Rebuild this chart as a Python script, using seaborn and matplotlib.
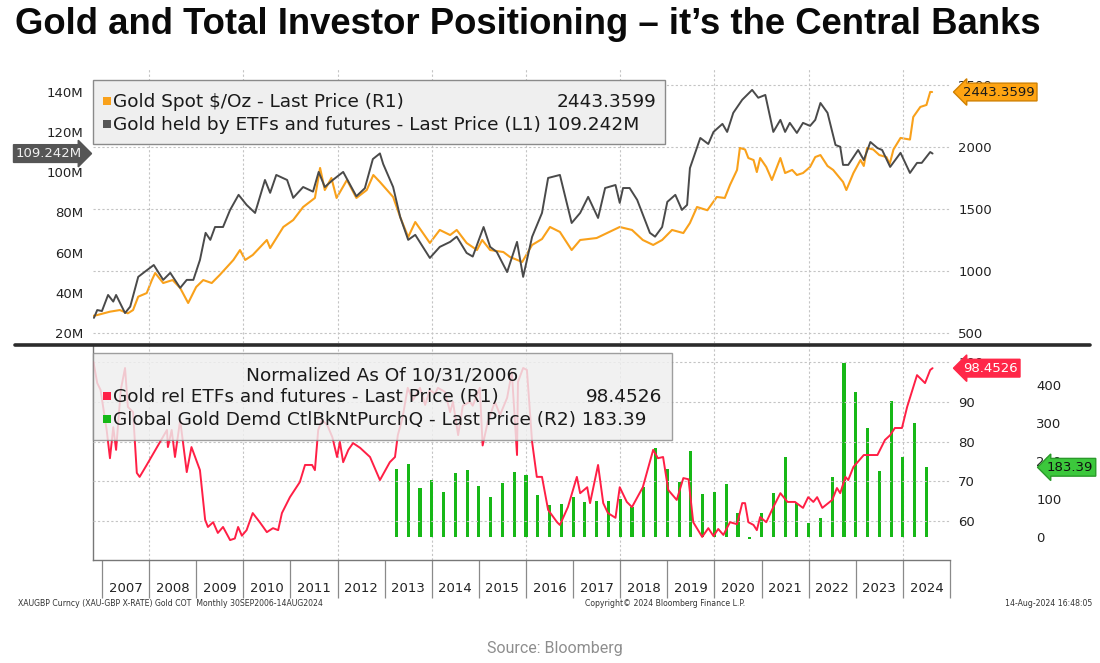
import matplotlib
matplotlib.use("Agg")
import matplotlib.pyplot as plt
import matplotlib.transforms as mtrans
from matplotlib.lines import Line2D
from matplotlib.patches import Rectangle
import numpy as np
import pandas as pd
import seaborn as sns

# ---------------- data ----------------
gold_t = [2006.80, 2006.90, 2007.17, 2007.38, 2007.55, 2007.66, 2007.77, 2007.95, 2008.06, 2008.13,
          2008.30, 2008.50, 2008.66, 2008.83, 2009.00, 2009.15, 2009.33, 2009.50, 2009.79, 2009.93,
          2010.04, 2010.20, 2010.50, 2010.57, 2010.85, 2011.06, 2011.27, 2011.52, 2011.63, 2011.73,
          2011.87, 2011.98, 2012.20, 2012.40, 2012.62, 2012.76, 2012.90, 2013.18, 2013.33, 2013.50,
          2013.65, 2013.96, 2014.17, 2014.39, 2014.53, 2014.74, 2014.96, 2015.07, 2015.24, 2015.52,
          2015.66, 2015.92, 2016.13, 2016.34, 2016.51, 2016.72, 2016.97, 2017.15, 2017.50, 2017.72,
          2017.99, 2018.25, 2018.48, 2018.70, 2018.89, 2019.10, 2019.34, 2019.48, 2019.63, 2019.85,
          2020.05, 2020.22, 2020.33, 2020.48, 2020.54, 2020.65, 2020.72, 2020.83, 2020.90, 2020.97,
          2021.10, 2021.22, 2021.40, 2021.50, 2021.65, 2021.75, 2021.88, 2022.03, 2022.14, 2022.25,
          2022.40, 2022.52, 2022.73, 2022.80, 2022.95, 2023.10, 2023.17, 2023.24, 2023.37, 2023.50,
          2023.65, 2023.72, 2023.80, 2023.95, 2024.15, 2024.22, 2024.37, 2024.50, 2024.58, 2024.62]
gold_v = [637, 645, 672, 685, 659, 685, 793, 822, 927, 984,
          903, 927, 863, 742, 871, 927, 903, 968, 1089, 1169,
          1089, 1129, 1250, 1185, 1355, 1411, 1516, 1589, 1831, 1653,
          1750, 1589, 1734, 1589, 1653, 1774, 1718, 1597, 1435, 1274,
          1395, 1226, 1331, 1290, 1331, 1226, 1169, 1250, 1169, 1153,
          1113, 1073, 1210, 1258, 1355, 1315, 1169, 1250, 1266, 1306,
          1355, 1331, 1250, 1210, 1250, 1331, 1306, 1387, 1516, 1490,
          1597, 1589, 1694, 1815, 1992, 1980, 1911, 1895, 1798, 1911,
          1839, 1734, 1911, 1790, 1815, 1774, 1790, 1839, 1919, 1935,
          1847, 1815, 1718, 1653, 1790, 1895, 1847, 1992, 1980, 1935,
          1919, 1863, 1980, 2073, 2060, 2242, 2323, 2339, 2444, 2443.36]

etf_t = [2006.83, 2006.90, 2007.00, 2007.13, 2007.24, 2007.30, 2007.49, 2007.60, 2007.77, 2007.88,
         2008.10, 2008.30, 2008.45, 2008.66, 2008.80, 2008.94, 2009.08, 2009.20, 2009.30, 2009.40,
         2009.57, 2009.72, 2009.90, 2010.07, 2010.25, 2010.46, 2010.57, 2010.70, 2010.93, 2011.06,
         2011.27, 2011.48, 2011.60, 2011.73, 2011.90, 2012.12, 2012.27, 2012.40, 2012.58, 2012.75,
         2012.90, 2012.97, 2013.18, 2013.33, 2013.50, 2013.65, 2013.96, 2014.17, 2014.39, 2014.53,
         2014.74, 2014.87, 2015.10, 2015.24, 2015.38, 2015.60, 2015.81, 2015.94, 2016.13, 2016.34,
         2016.47, 2016.72, 2016.97, 2017.15, 2017.32, 2017.53, 2017.68, 2017.90, 2017.99, 2018.06,
         2018.20, 2018.36, 2018.63, 2018.74, 2018.89, 2019.00, 2019.17, 2019.31, 2019.42, 2019.48,
         2019.70, 2019.87, 2019.98, 2020.17, 2020.27, 2020.40, 2020.59, 2020.80, 2020.93, 2021.08,
         2021.25, 2021.40, 2021.50, 2021.60, 2021.75, 2021.88, 2022.03, 2022.14, 2022.25, 2022.40,
         2022.57, 2022.67, 2022.73, 2022.84, 2023.05, 2023.17, 2023.31, 2023.46, 2023.56, 2023.73,
         2023.95, 2024.15, 2024.30, 2024.40, 2024.58, 2024.63]
etf_v = [27.5, 31.4, 30.9, 38.9, 35.6, 38.9, 29.9, 33.1, 47.9, 49.9,
         53.8, 46.4, 49.9, 42.4, 46.4, 46.4, 56.3, 69.8, 66.3, 72.7,
         72.7, 81.2, 88.7, 83.7, 79.7, 96.1, 89.7, 98.6, 96.1, 87.2,
         92.6, 90.3, 100.1, 92.6, 96.1, 100.1, 93.6, 88.0, 92.0, 106.5,
         109.3, 104.0, 92.6, 77.7, 66.3, 68.8, 57.3, 62.8, 65.3, 67.9,
         59.8, 58.0, 72.7, 62.8, 60.3, 50.3, 65.3, 47.9, 67.8, 79.7,
         97.1, 98.6, 74.7, 79.7, 87.7, 77.2, 92.1, 93.6, 84.7, 92.1,
         92.1, 86.2, 69.8, 67.9, 72.7, 85.2, 88.7, 81.2, 83.7, 102.0,
         117.0, 114.0, 120.0, 124.0, 120.0, 129.5, 136.0, 140.9, 137.0, 138.4,
         120.0, 126.0, 120.0, 124.5, 119.5, 124.5, 123.0, 126.0, 134.4, 129.5,
         113.5, 112.6, 103.6, 103.6, 111.0, 106.0, 115.0, 112.0, 111.0, 102.6,
         109.6, 99.6, 104.6, 104.6, 110.0, 109.242]

rel_t = [2006.82, 2006.90, 2006.97, 2007.10, 2007.17, 2007.24, 2007.30, 2007.40, 2007.49, 2007.55,
         2007.66, 2007.74, 2007.80, 2007.95, 2008.17, 2008.38, 2008.40, 2008.48, 2008.55, 2008.66,
         2008.80, 2008.90, 2009.08, 2009.19, 2009.25, 2009.36, 2009.46, 2009.57, 2009.72, 2009.82,
         2009.89, 2009.97, 2010.07, 2010.20, 2010.35, 2010.50, 2010.63, 2010.74, 2010.82, 2010.99,
         2011.20, 2011.31, 2011.46, 2011.52, 2011.59, 2011.67, 2011.78, 2011.89, 2011.99, 2012.05,
         2012.12, 2012.23, 2012.33, 2012.48, 2012.69, 2012.90, 2013.11, 2013.22, 2013.28, 2013.38,
         2013.49, 2013.60, 2013.75, 2013.86, 2013.96, 2014.07, 2014.13, 2014.28, 2014.39, 2014.45,
         2014.56, 2014.66, 2014.81, 2014.87, 2015.02, 2015.08, 2015.19, 2015.34, 2015.45, 2015.60,
         2015.70, 2015.81, 2015.83, 2015.94, 2016.02, 2016.13, 2016.23, 2016.34, 2016.47, 2016.66,
         2016.72, 2016.89, 2017.08, 2017.15, 2017.30, 2017.36, 2017.53, 2017.64, 2017.74, 2017.90,
         2017.99, 2018.14, 2018.25, 2018.48, 2018.70, 2018.80, 2018.91, 2019.02, 2019.20, 2019.34,
         2019.45, 2019.55, 2019.74, 2019.87, 2019.98, 2020.08, 2020.19, 2020.33, 2020.48, 2020.59,
         2020.65, 2020.72, 2020.83, 2020.90, 2020.97, 2021.10, 2021.25, 2021.40, 2021.55, 2021.71,
         2021.88, 2021.99, 2022.10, 2022.18, 2022.29, 2022.50, 2022.60, 2022.67, 2022.78, 2022.84,
         2022.95, 2023.17, 2023.46, 2023.62, 2023.73, 2023.83, 2023.98, 2024.09, 2024.30, 2024.47,
         2024.58, 2024.63]
rel_v = [100.0, 94.7, 93.0, 82.9, 75.8, 83.6, 77.9, 93.0, 98.5, 88.7,
         87.4, 72.1, 71.1, 74.1, 78.6, 82.9, 78.6, 82.9, 76.1, 85.4,
         72.3, 78.6, 72.8, 60.3, 58.5, 59.7, 57.0, 58.5, 55.2, 55.6,
         58.5, 56.3, 57.7, 62.0, 59.7, 57.2, 58.2, 57.7, 62.0, 66.0,
         69.8, 74.1, 74.1, 72.8, 82.9, 85.4, 84.2, 81.1, 76.1, 79.9,
         74.8, 77.9, 79.6, 78.4, 76.1, 70.3, 74.8, 76.1, 81.6, 86.0,
         93.5, 90.4, 93.5, 89.2, 93.0, 92.0, 93.5, 92.5, 87.4, 90.0,
         81.6, 89.0, 90.0, 89.0, 93.5, 79.0, 85.0, 90.0, 86.7, 91.0,
         97.5, 76.6, 95.0, 98.5, 98.0, 79.9, 71.1, 71.1, 62.8, 59.7,
         59.0, 63.5, 71.1, 67.0, 68.5, 64.5, 74.1, 64.5, 62.0, 60.8,
         68.5, 64.8, 63.5, 68.5, 77.9, 75.8, 76.1, 67.8, 65.3, 70.8,
         70.5, 59.7, 56.0, 58.2, 56.2, 58.0, 56.5, 59.7, 59.2, 64.5,
         64.5, 59.7, 59.0, 57.7, 61.0, 59.7, 63.5, 67.0, 64.8, 64.8,
         63.3, 66.0, 64.8, 66.0, 63.3, 65.3, 68.3, 67.0, 71.1, 70.3,
         73.6, 76.6, 76.6, 80.4, 81.6, 83.4, 83.4, 88.7, 96.7, 94.7,
         98.0, 98.4526]

# central-bank net purchases, quarterly, 2013Q1 .. 2024Q2 (plotted at quarter end)
cb_t = [2013.25 + 0.25 * i for i in range(46)]
cb_v = [179, 192, 129, 150, 118, 168, 176, 134, 105, 142,
        171, 163, 111, 84, 87, 105, 92, 95, 95, 100,
        79, 132, 234, 179, 145, 226, 113, 118, 139, 63,
        -6, 63, 116, 211, 89, 37, 50, 158, 458, 382,
        287, 174, 358, 211, 300, 183.39]

year_labels = [str(y) for y in range(2007, 2025)]
etf_ticks = [20, 40, 60, 80, 100, 120, 140]
etf_tick_labels = ["20M", "40M", "60M", "80M", "100M", "120M", "140M"]
gold_ticks = [500, 1000, 1500, 2000, 2500]
rel_ticks = [60, 70, 80, 90, 100]
cb_ticks = [0, 100, 200, 300, 400]

# ---------------- style ----------------
sns.set_theme(style="white")
plt.rcParams['font.family'] = ['DejaVu Sans']

W, H = 1100, 663
ORANGE = "#f9a11b"
GREY = "#4a4a4a"
RED = "#ff1f45"
GREEN = "#17b817"
GRID = dict(color="#c4c4c4", linestyle=(0, (2, 2)), linewidth=0.8)
TICKC = "#222222"


def fx(px):
    return px / W


def fy(py):
    return 1 - py / H


fig = plt.figure(figsize=(11, 6.63), dpi=100)
fig.patch.set_facecolor("white")

XL = (2006.81, 2025.0)
AX_L, AX_R = 93, 950

# ---------- top panel ----------
top_y0, top_y1 = 68, 343
ax1 = fig.add_axes([fx(AX_L), fy(top_y1), fx(AX_R - AX_L), (top_y1 - top_y0) / H])
ax1r = ax1.twinx()
ax1.set_zorder(ax1r.get_zorder() + 1)
ax1.patch.set_visible(False)

sns.lineplot(x=gold_t, y=gold_v, ax=ax1r, color=ORANGE, linewidth=1.5, legend=False)
sns.lineplot(x=etf_t, y=etf_v, ax=ax1, color=GREY, linewidth=1.4, legend=False)

ax1.set_xlim(*XL)
ax1r.set_xlim(*XL)
ax1.set_ylim(15.0, 151.8)
ax1r.set_ylim(419.4, 2637)
ax1.set_yticks(etf_ticks)
ax1.set_yticklabels(etf_tick_labels)
ax1r.set_yticks(gold_ticks)
ax1r.set_yticklabels([str(v) for v in gold_ticks])
ax1.set_xticks(range(2008, 2025, 2))
ax1.set_xticklabels([])
ax1.tick_params(axis="x", length=0)
ax1.tick_params(axis="y", length=0, pad=7, labelsize=9.5, labelcolor=TICKC)
ax1r.tick_params(axis="y", length=0, pad=6, labelsize=9.5, labelcolor=TICKC)
ax1.grid(axis="x", **GRID)
ax1r.grid(axis="y", **GRID)
ax1.grid(axis="y", visible=False)
ax1r.grid(axis="x", visible=False)
for a in (ax1, ax1r):
    for s in a.spines.values():
        s.set_visible(False)
    a.set_xlabel("")
    a.set_ylabel("")

# tags top
tr1 = mtrans.blended_transform_factory(ax1.transAxes, ax1.transData)
ax1.text((82 - AX_L) / (AX_R - AX_L), etf_v[-1], "109.242M", transform=tr1,
         ha="right", va="center", fontsize=9.5, color="#f0f0f0", zorder=10,
         bbox=dict(boxstyle="rarrow,pad=0.18", fc="#555555", ec="#555555"))
tr1r = mtrans.blended_transform_factory(ax1r.transAxes, ax1r.transData)
ax1r.text((963 - AX_L) / (AX_R - AX_L), gold_v[-1], "2443.3599", transform=tr1r,
          ha="left", va="center", fontsize=9.5, color="#1a1a1a", zorder=10,
          bbox=dict(boxstyle="larrow,pad=0.18", fc="#ffa412", ec="#d08000"))

# ---------- bottom panel ----------
bot_y0, bot_y1 = 345, 560
ax2g = fig.add_axes([fx(AX_L), fy(bot_y1), fx(AX_R - AX_L), (bot_y1 - bot_y0) / H])
ax2 = ax2g.twinx()

ax2g.bar(cb_t, cb_v, width=0.065, color=GREEN, linewidth=0, zorder=2)
sns.lineplot(x=rel_t, y=rel_v, ax=ax2, color=RED, linewidth=1.4, legend=False)

for a in (ax2, ax2g):
    a.set_xlim(*XL)
    a.set_xlabel("")
    a.set_ylabel("")
ax2.set_ylim(50.19, 104.28)
ax2g.set_ylim(-60.5, 505)
ax2.set_yticks(rel_ticks)
ax2.set_yticklabels([str(v) for v in rel_ticks])
ax2g.yaxis.tick_right()
ax2g.set_yticks(cb_ticks)
ax2g.set_yticklabels([str(v) for v in cb_ticks])
ax2.tick_params(axis="y", length=0, pad=6, labelsize=9.5, labelcolor=TICKC)
ax2g.tick_params(axis="y", length=0, pad=62, labelsize=9.5, labelcolor=TICKC)
ax2g.grid(False)
ax2.grid(axis="y", **GRID)
ax2.grid(axis="x", visible=False)
for yr in range(2008, 2025, 2):
    ax2g.axvline(yr, zorder=1, **GRID)

# x axis: year labels centred between boundary ticks
ax2g.set_xticks([int(y) + 0.5 for y in year_labels])
ax2g.set_xticklabels(year_labels)
ax2g.set_xticks(range(2007, 2026), minor=True)
ax2g.tick_params(axis="x", which="major", bottom=True, length=0, pad=16, labelsize=9.5,
                 labelcolor=TICKC)
ax2g.tick_params(axis="x", which="minor", bottom=True, length=27, width=0.9,
                 color="#8a8a8a", direction="out")
ax2.tick_params(axis="x", which="both", bottom=False, length=0)
for a in (ax2, ax2g):
    for k, s in a.spines.items():
        s.set_visible(k in ("left", "bottom"))
        s.set_color("#777777")
        s.set_linewidth(1.0)
ax2.spines["left"].set_visible(False)
ax2.spines["bottom"].set_visible(False)

tr2 = mtrans.blended_transform_factory(ax2.transAxes, ax2.transData)
ax2.text((963 - AX_L) / (AX_R - AX_L), rel_v[-1], "98.4526", transform=tr2,
         ha="left", va="center", fontsize=9.5, color="white", zorder=10,
         bbox=dict(boxstyle="larrow,pad=0.18", fc="#ff2748", ec="#ff2748"))
tr2g = mtrans.blended_transform_factory(ax2g.transAxes, ax2g.transData)
ax2g.text((1047 - AX_L) / (AX_R - AX_L), cb_v[-1], "183.39", transform=tr2g,
          ha="left", va="center", fontsize=9.5, color="#111111", zorder=10,
          bbox=dict(boxstyle="larrow,pad=0.18", fc="#3cc83c", ec="#2a9a2a"))

# ---------- separator ----------
fig.add_artist(Line2D([fx(15), fx(1090)], [fy(345), fy(345)], color="#2b2b2b",
                      linewidth=2.6, transform=fig.transFigure, zorder=5))

# ---------- legends ----------
LEG_FS = 13.3


def legend_box(x0, y0, x1, y1, alpha):
    fig.add_artist(Rectangle((fx(x0), fy(y1)), fx(x1 - x0), (y1 - y0) / H,
                             transform=fig.transFigure, facecolor="#efefef",
                             edgecolor="#8a8a8a", linewidth=1.0, alpha=alpha, zorder=6))


def marker(x, y, c):
    fig.add_artist(Rectangle((fx(x - 4), fy(y + 4)), fx(8), 8 / H, transform=fig.transFigure,
                             facecolor=c, edgecolor="none", zorder=7))


legend_box(93, 80, 665, 144, 1.0)
marker(107, 101, ORANGE)
marker(107, 124, "#555555")
fig.text(fx(113), fy(102), "Gold Spot $/Oz - Last Price (R1)", fontsize=LEG_FS, va="center",
         ha="left", color="#1a1a1a", zorder=8)
fig.text(fx(656), fy(102), "2443.3599", fontsize=LEG_FS, va="center", ha="right",
         color="#1a1a1a", zorder=8)
fig.text(fx(113), fy(125), "Gold held by ETFs and futures - Last Price (L1) 109.242M",
         fontsize=LEG_FS, va="center", ha="left", color="#1a1a1a", zorder=8)

legend_box(93, 353, 672, 440, 0.82)
marker(107, 396, RED)
marker(107, 419, GREEN)
fig.text(fx(382), fy(375), "Normalized As Of 10/31/2006", fontsize=LEG_FS, va="center",
         ha="center", color="#1a1a1a", zorder=8)
fig.text(fx(113), fy(397), "Gold rel ETFs and futures - Last Price (R1)", fontsize=LEG_FS,
         va="center", ha="left", color="#1a1a1a", zorder=8)
fig.text(fx(662), fy(397), "98.4526", fontsize=LEG_FS, va="center", ha="right",
         color="#1a1a1a", zorder=8)
fig.text(fx(113), fy(420), "Global Gold Demd CtlBkNtPurchQ - Last Price (R2) 183.39",
         fontsize=LEG_FS, va="center", ha="left", color="#1a1a1a", zorder=8)

# ---------- titles / footers ----------
title = fig.text(fx(15), fy(24),
                 "Gold and Total Investor Positioning \u2013 it\u2019s the Central Banks",
                 fontsize=22, fontweight="bold", family=["Liberation Sans", "DejaVu Sans"],
                 ha="left", va="center", color="#0a0a0a")
# fit the title to the reference width (15 px .. 1040 px)
renderer = fig.canvas.get_renderer()
tw = title.get_window_extent(renderer).width
title.set_fontsize(22 * 1025.0 / tw)

fig.text(fx(18), fy(604), "XAUGBP Curncy (XAU-GBP X-RATE) Gold COT  Monthly 30SEP2006-14AUG2024",
         fontsize=5.6, ha="left", va="center", color="#333333")
fig.text(fx(585), fy(604), "Copyright\u00a9 2024 Bloomberg Finance L.P.", fontsize=5.6,
         ha="left", va="center", color="#333333")
fig.text(fx(1092), fy(604), "14-Aug-2024 16:48:05", fontsize=5.6, ha="right", va="center",
         color="#333333")
fig.text(fx(555), fy(648), "Source: Bloomberg", fontsize=11.5, ha="center", va="center",
         color="#8e8e8e", family=["Roboto", "DejaVu Sans"])

fig.savefig("out.png", dpi=100, facecolor="white")
